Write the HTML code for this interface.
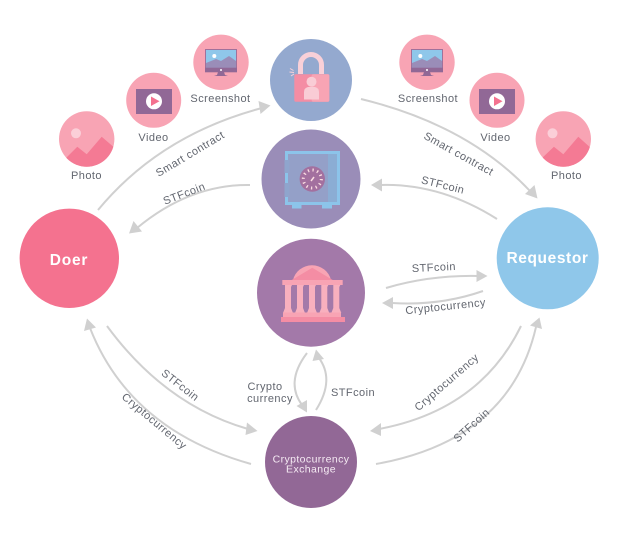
<!DOCTYPE html>
<html><head><meta charset="utf-8"><style>
html,body{margin:0;padding:0;background:#fff;width:634px;height:536px;overflow:hidden}
svg{display:block}
text{font-family:"Liberation Sans",sans-serif;font-size:11px;fill:#62666f;text-anchor:middle;letter-spacing:.45px}
.c{fill:none;stroke:#d0d0d0;stroke-width:2}
.h{fill:#d0d0d0}
</style></head><body>
<svg width="634" height="536" viewBox="0 0 634 536" xmlns="http://www.w3.org/2000/svg">
<defs>
<clipPath id="p1"><circle cx="86.7" cy="139" r="27.7"/></clipPath>
<clipPath id="p2"><circle cx="563.3" cy="139" r="27.7"/></clipPath>
<g id="vid"><rect x="136" y="89" width="36" height="25" fill="#916896"/><circle cx="154" cy="101.3" r="8" fill="#fff"/><polygon points="151,96.5 151,106 159.5,101.3" fill="#f4728f"/></g>
<g id="scr"><rect x="205" y="49" width="32" height="23" fill="#916896" opacity=".85"/><rect x="206" y="50" width="30" height="18" fill="#8fc7ea"/><polygon points="206,66 206,63 216,59 221,61 229,56 236,61 236,68 206,68" fill="#9a8db8"/><circle cx="214.3" cy="56" r="2" fill="#fff"/><rect x="205" y="67.7" width="32" height="4.6" fill="#916896"/><circle cx="221" cy="70" r="1" fill="#fff"/><polygon points="218,72 224,72 225,75 228,76 214,76 217,75" fill="#916896"/></g>
</defs>

<!-- connectors -->
<path class="c" d="M98 210Q160 135 262 108"/><polygon class="h" points="270.500,105.500 258.500,101 260.500,114"/>
<path class="c" d="M250 185Q190 184 137 228"/><polygon class="h" points="129,233.500 133.500,221 142,231.500"/>
<path class="c" d="M361 99Q468 125 530 191"/><polygon class="h" points="537.500,198.500 525,194 534.500,185"/>
<path class="c" d="M497 219Q440 183 380 185"/><polygon class="h" points="371,185 382,178.500 382,191.500"/>
<path class="c" d="M386 288Q430 275 478 276"/><polygon class="h" points="487.500,276 476.500,270 476.500,282"/>
<path class="c" d="M483 291Q440 306 392 303"/><polygon class="h" points="382,303 393,297 393,309"/>
<path class="c" d="M307 353Q285 382 302 405"/><polygon class="h" points="307,412.500 296.500,406 307,400"/>
<path class="c" d="M316 410Q335 380 319 358"/><polygon class="h" points="316,349.500 324,359 312.500,361"/>
<path class="c" d="M107 326Q165 405 248 429"/><polygon class="h" points="257.500,431 247,422.500 245.500,435"/>
<path class="c" d="M251 464Q130 430 90 328"/><polygon class="h" points="87,318.500 96,327.500 84,331"/>
<path class="c" d="M521 326Q480 410 379 429"/><polygon class="h" points="370,431 381,423 381,436"/>
<path class="c" d="M376 464Q510 440 536 327"/><polygon class="h" points="539.500,317.500 530,325.500 542,329"/>

<!-- small circles left -->
<circle cx="86.7" cy="139" r="27.7" fill="#f8a4b4"/>
<g clip-path="url(#p1)"><polygon points="64,160 77.300,146.700 86.700,154.300 101.700,136.700 116,149 116,170 60,170" fill="#f47a94"/></g>
<circle cx="76" cy="133.300" r="5" fill="#fbcfd8"/>
<circle cx="153.700" cy="100.300" r="27.500" fill="#f8a4b4"/>
<use href="#vid"/>
<circle cx="221" cy="62.300" r="27.700" fill="#f8a4b4"/>
<use href="#scr"/>

<!-- small circles right -->
<circle cx="427" cy="62.300" r="27.700" fill="#f8a4b4"/>
<use href="#scr" x="206"/>
<circle cx="497" cy="100.300" r="27.500" fill="#f8a4b4"/>
<use href="#vid" x="343"/>
<circle cx="563.300" cy="139" r="27.700" fill="#f8a4b4"/>
<g clip-path="url(#p2)"><polygon points="540,160 553.900,146.700 563.300,154.300 578.300,136.700 592,149 592,170 536,170" fill="#f47a94"/></g>
<circle cx="552.500" cy="133.300" r="5" fill="#fbcfd8"/>

<!-- lock -->
<circle cx="311" cy="80" r="41" fill="#94a9cf"/>
<path d="M300.500 74V65a10.500 10.500 0 0 1 21 0V74" fill="none" stroke="#f9d0d8" stroke-width="5"/>
<rect x="294.300" y="74.300" width="35" height="27.400" rx="1.500" fill="#f48da4"/>
<rect x="311.700" y="74.300" width="17.600" height="27.400" rx="1.500" fill="#f8a4b4"/>
<circle cx="311.500" cy="81.700" r="5" fill="#f9ccd5"/>
<path d="M304 99.500V92q0-4 4-5h7q4 1 4 5v7.500z" fill="#f9ccd5"/>
<g stroke="#f9d0d8" stroke-width="1"><line x1="290" y1="68.500" x2="293.500" y2="70.500"/><line x1="289.500" y1="72" x2="294" y2="72.500"/><line x1="291" y1="76" x2="294" y2="74"/></g>

<!-- vault -->
<circle cx="311" cy="179" r="49.500" fill="#9a8db8"/>
<rect x="292" y="205" width="9.500" height="3.500" fill="#8cc4ea"/><rect x="322" y="205" width="10" height="3.500" fill="#8cc4ea"/>
<rect x="286.500" y="152.500" width="52" height="51" fill="#94a0c8" stroke="#8cc4ea" stroke-width="3"/>
<rect x="328" y="154" width="9" height="48" fill="#8badd4"/>
<rect x="284.500" y="160" width="5" height="13" fill="#8fa5cd"/><rect x="284.500" y="183" width="5" height="14" fill="#8fa5cd"/>
<circle cx="312.300" cy="179" r="12.700" fill="#a3709f"/>
<circle cx="312.300" cy="179" r="9" fill="none" stroke="#fbdde2" stroke-width="3" stroke-dasharray="1.300 3.400"/>
<line x1="311" y1="181" x2="314" y2="177" stroke="#fbdde2" stroke-width="1.500"/>

<!-- bank -->
<circle cx="311" cy="292.700" r="54" fill="#a379a9"/>
<path d="M293 280A19.500 19 0 0 1 331 280z" fill="#f8a4b4"/>
<polygon points="291.700,280 312.300,267.700 332.700,280" fill="#f48da4"/>
<rect x="282.300" y="280" width="60.400" height="5" fill="#f8a4b4"/>
<g fill="#f8b0be">
<path d="M285 285h7l-1 2v21l2 5h-10l2-5v-21z"/>
<path d="M297 285h7l-1 2v21l2 5h-10l2-5v-21z"/>
<path d="M309 285h7l-1 2v21l2 5h-10l2-5v-21z"/>
<path d="M321.300 285h7l-1 2v21l2 5h-10l2-5v-21z"/>
<path d="M333.300 285h7l-1 2v21l2 5h-10l2-5v-21z"/>
</g>
<rect x="283" y="312.500" width="58" height="4.500" fill="#f8a4b4"/>
<rect x="281" y="317" width="64" height="5" fill="#f48da4"/>

<!-- big -->
<circle cx="311" cy="462" r="46" fill="#926896"/>
<circle cx="69.300" cy="258.300" r="49.700" fill="#f4728f"/>
<circle cx="547.700" cy="258.300" r="51" fill="#8fc7ea"/>

<text x="69" y="265" style="font-size:15.500px;font-weight:700;fill:#fff;letter-spacing:.8px">Doer</text>
<text x="547.500" y="263" style="font-size:15.500px;font-weight:700;fill:#fff;letter-spacing:.6px">Requestor</text>
<text x="311" y="462.500" style="font-size:10.500px;fill:#f5eaf3;letter-spacing:.4px">Cryptocurrency</text>
<text x="311" y="472.500" style="font-size:10.500px;fill:#f5eaf3;letter-spacing:.4px">Exchange</text>

<text x="86.500" y="179">Photo</text>
<text x="153.500" y="141">Video</text>
<text x="220.500" y="102">Screenshot</text>
<text x="428" y="102">Screenshot</text>
<text x="495.500" y="141">Video</text>
<text x="566.500" y="179">Photo</text>

<text transform="translate(192 157) rotate(-31)">Smart contract</text>
<text transform="translate(185.500 197) rotate(-21)">STFcoin</text>
<text transform="translate(457 157) rotate(29)">Smart contract</text>
<text transform="translate(442 188.500) rotate(14)">STFcoin</text>
<text transform="translate(434 271) rotate(-3)">STFcoin</text>
<text transform="translate(446 310) rotate(-6)">Cryptocurrency</text>
<text x="265" y="390">Crypto</text>
<text x="270" y="402">currency</text>
<text x="353" y="396">STFcoin</text>
<text transform="translate(178 388) rotate(38)">STFcoin</text>
<text transform="translate(152 424) rotate(40)">Cryptocurrency</text>
<text transform="translate(449 385) rotate(-41)">Cryptocurrency</text>
<text transform="translate(474 428) rotate(-42)">STFcoin</text>
</svg>
</body></html>
